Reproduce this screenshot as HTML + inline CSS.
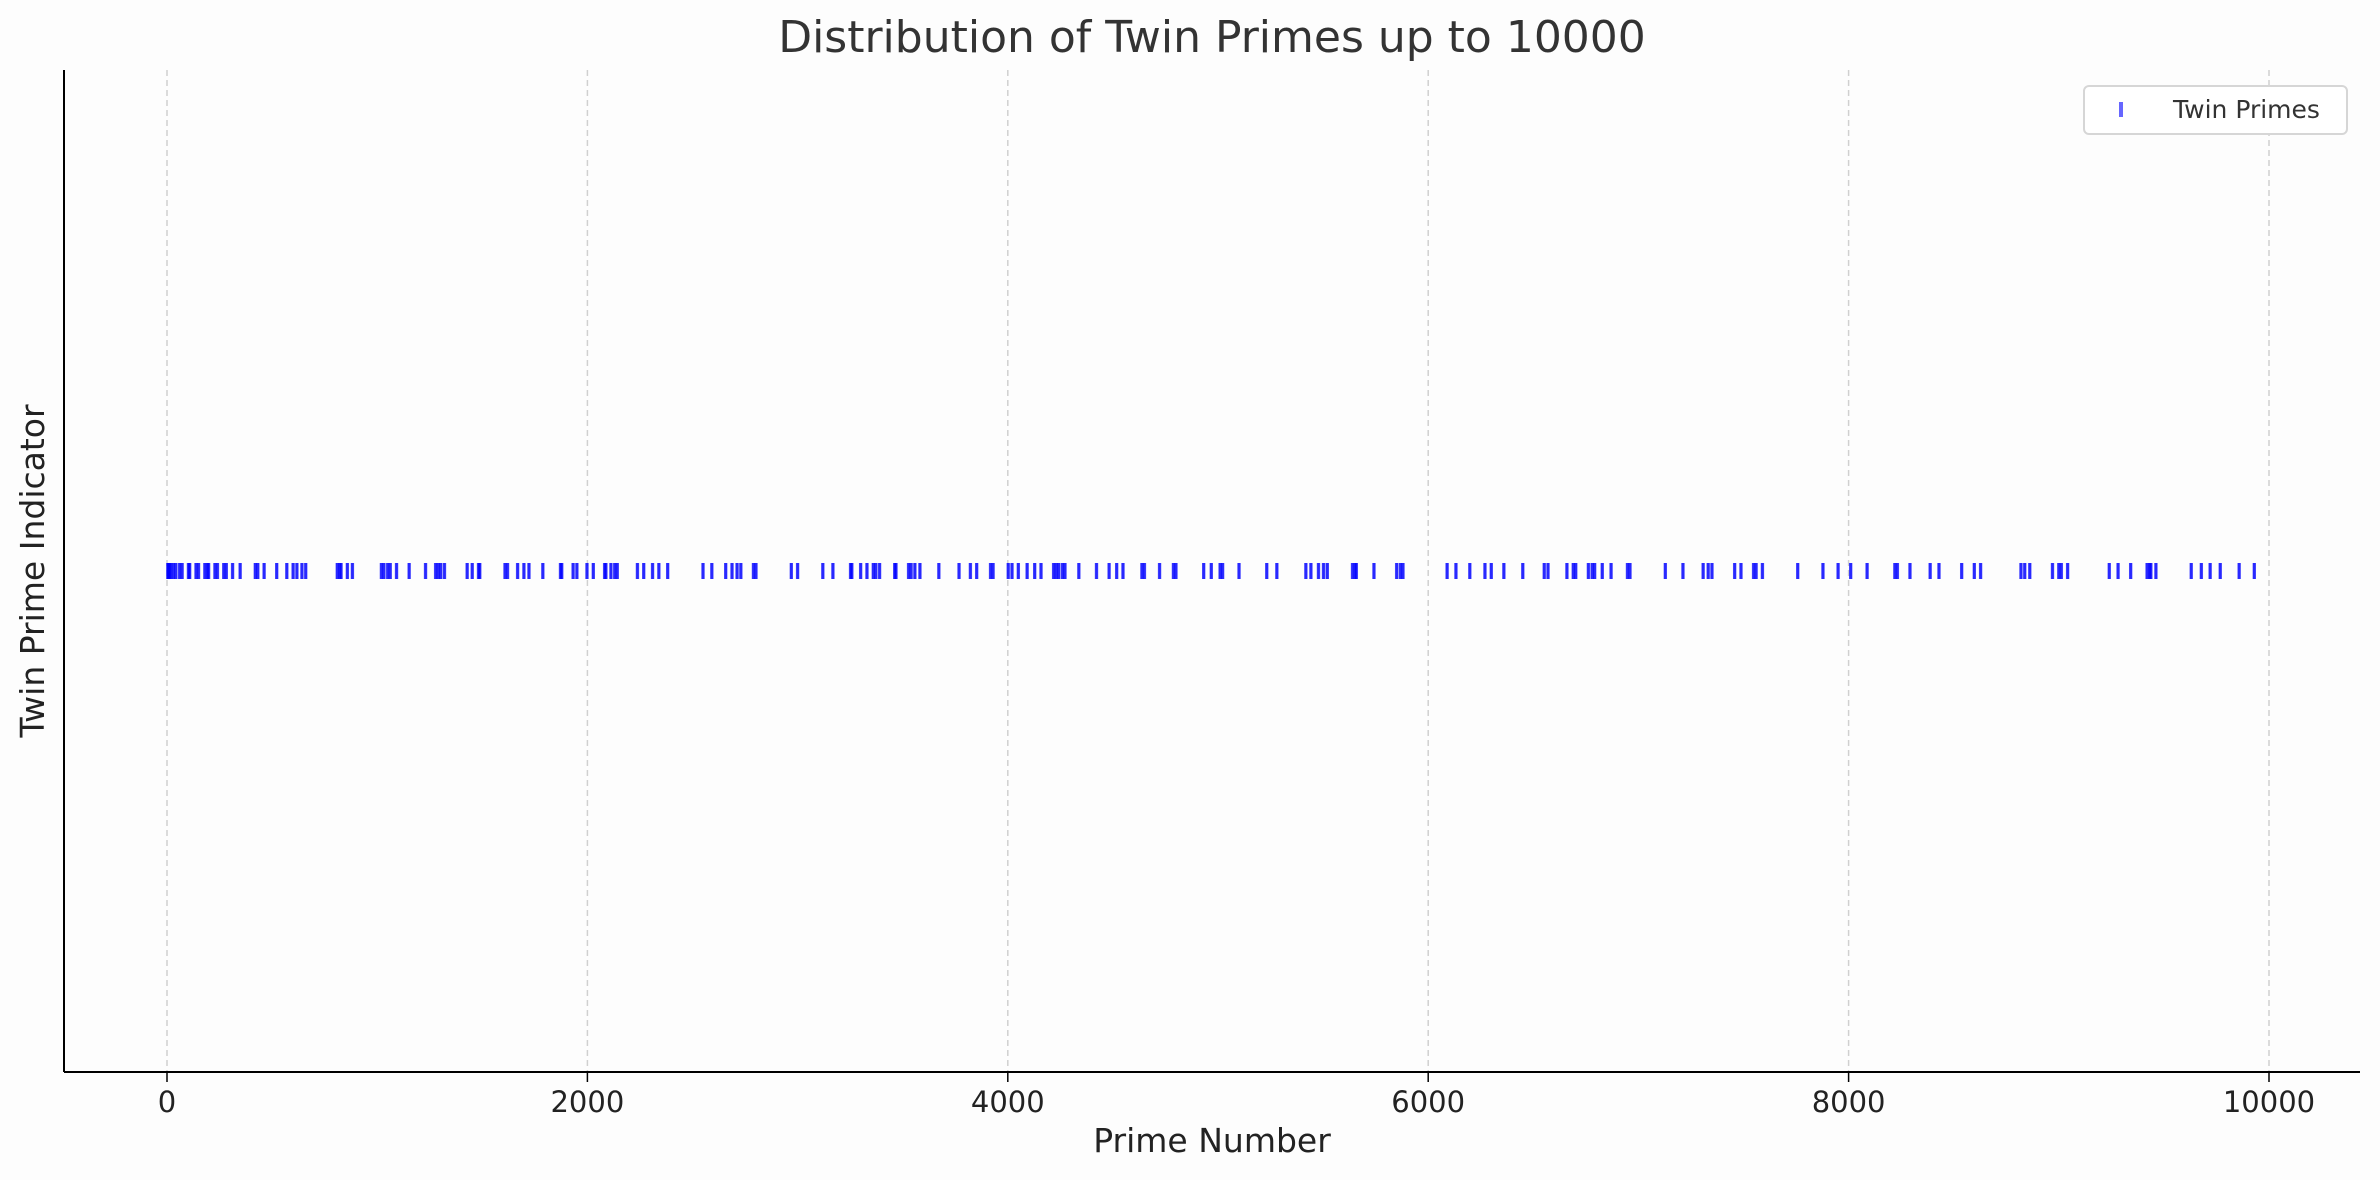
<!DOCTYPE html>
<html><head><meta charset="utf-8"><style>html,body{margin:0;padding:0;background:#fdfdfd}svg{display:block;font-family:"DejaVu Sans","Liberation Sans",sans-serif}</style></head>
<body>
<svg width="2380" height="1180" viewBox="0 0 2380 1180">
<rect x="0" y="0" width="2380" height="1180" fill="#fdfdfd"/>
<g id="grid"></g>
<g id="marks"></g>
<line x1="64" y1="70" x2="64" y2="1072" stroke="#000" stroke-width="2"/>
<line x1="64" y1="1072" x2="2360" y2="1072" stroke="#000" stroke-width="2"/>
<g id="ticks"></g>
<text x="1212" y="52" text-anchor="middle" font-size="44" fill="#333">Distribution of Twin Primes up to 10000</text>
<text x="1212" y="1152" text-anchor="middle" font-size="33" fill="#222">Prime Number</text>
<text transform="translate(44,571) rotate(-90)" text-anchor="middle" font-size="33" fill="#222">Twin Prime Indicator</text>
<g>
<rect x="2084" y="86" width="263" height="48" rx="5" fill="#fff" stroke="#d6d6d6" stroke-width="2"/>
<rect x="2119" y="102" width="4" height="15" fill="rgba(0,0,255,0.6)"/>
<text x="2173" y="118" font-size="25" fill="#333">Twin Primes</text>
</g>
</svg>
<script>
const lesserTwins=[3,5,11,17,29,41,59,71,101,107,137,149,179,191,197,227,239,269,281,311,347,419,431,461,521,569,599,617,641,659,809,821,827,857,881,1019,1031,1049,1061,1091,1151,1229,1277,1289,1301,1319,1427,1451,1481,1487,1607,1619,1667,1697,1721,1787,1871,1877,1931,1949,1997,2027,2081,2087,2111,2129,2141,2237,2267,2309,2339,2381,2549,2591,2657,2687,2711,2729,2789,2801,2969,2999,3119,3167,3251,3257,3299,3329,3359,3371,3389,3461,3467,3527,3539,3557,3581,3671,3767,3821,3851,3917,3929,4001,4019,4049,4091,4127,4157,4217,4229,4241,4259,4271,4337,4421,4481,4517,4547,4637,4649,4721,4787,4799,4931,4967,5009,5021,5099,5231,5279,5417,5441,5477,5501,5519,5639,5651,5657,5741,5849,5867,5879,6089,6131,6197,6269,6299,6359,6449,6551,6569,6659,6689,6701,6761,6779,6791,6827,6869,6947,6959,7127,7211,7307,7331,7349,7457,7487,7547,7559,7589,7757,7877,7949,8009,8087,8219,8231,8291,8387,8429,8537,8597,8627,8819,8837,8861,8969,8999,9011,9041,9239,9281,9341,9419,9431,9437,9461,9629,9677,9719,9767,9857,9929];
const greaterTwins=[5,7,13,19,31,43,61,73,103,109,139,151,181,193,199,229,241,271,283,313,349,421,433,463,523,571,601,619,643,661,811,823,829,859,883,1021,1033,1051,1063,1093,1153,1231,1279,1291,1303,1321,1429,1453,1483,1489,1609,1621,1669,1699,1723,1789,1873,1879,1933,1951,1999,2029,2083,2089,2113,2131,2143,2239,2269,2311,2341,2383,2551,2593,2659,2689,2713,2731,2791,2803,2971,3001,3121,3169,3253,3259,3301,3331,3361,3373,3391,3463,3469,3529,3541,3559,3583,3673,3769,3823,3853,3919,3931,4003,4021,4051,4093,4129,4159,4219,4231,4243,4261,4273,4339,4423,4483,4519,4549,4639,4651,4723,4789,4801,4933,4969,5011,5023,5101,5233,5281,5419,5443,5479,5503,5521,5641,5653,5659,5743,5851,5869,5881,6091,6133,6199,6271,6301,6361,6451,6553,6571,6661,6691,6703,6763,6781,6793,6829,6871,6949,6961,7129,7213,7309,7333,7351,7459,7489,7549,7561,7591,7759,7879,7951,8011,8089,8221,8233,8293,8389,8431,8539,8599,8629,8821,8839,8863,8971,9001,9013,9043,9241,9283,9343,9421,9433,9439,9463,9631,9679,9721,9769,9859,9931];
const indicatorValue=1;
const xTicks=[0,2000,4000,6000,8000,10000];
const xTickLabels=["0","2000","4000","6000","8000","10000"];
const NS="http://www.w3.org/2000/svg";
const xScale=v=>167+v*(2269-167)/10000;
const yScale=v=>1072-(v-0.94)/(1.06-0.94)*(1072-70);
const grid=document.getElementById('grid'),ticks=document.getElementById('ticks'),marks=document.getElementById('marks');
xTicks.forEach((t,i)=>{
  const x=xScale(t);
  const g=document.createElementNS(NS,'line');
  g.setAttribute('x1',x);g.setAttribute('x2',x);g.setAttribute('y1',70);g.setAttribute('y2',1072);
  g.setAttribute('stroke','#d0d0d0');g.setAttribute('stroke-width','1.5');g.setAttribute('stroke-dasharray','6,4');
  
  
  grid.appendChild(g);
  const tk=document.createElementNS(NS,'line');
  tk.setAttribute('x1',x);tk.setAttribute('x2',x);tk.setAttribute('y1',1072);tk.setAttribute('y2',1082);
  tk.setAttribute('stroke','#000');tk.setAttribute('stroke-width','1.5');
  
  
  ticks.appendChild(tk);
  const tx=document.createElementNS(NS,'text');
  tx.setAttribute('x',x);tx.setAttribute('y',1112);tx.setAttribute('text-anchor','middle');
  tx.setAttribute('font-size','29');tx.setAttribute('fill','#222');
  tx.textContent=xTickLabels[i];
  
  
  ticks.appendChild(tx);
});
lesserTwins.concat(greaterTwins).forEach(p=>{
  const r=document.createElementNS(NS,'rect');
  r.setAttribute('x',xScale(p)-1.5);r.setAttribute('y',yScale(indicatorValue)-8);
  r.setAttribute('width',3);r.setAttribute('height',16);
  r.setAttribute('fill','rgba(0,0,255,0.6)');
  
  
  marks.appendChild(r);
});
</script>
</body></html>
